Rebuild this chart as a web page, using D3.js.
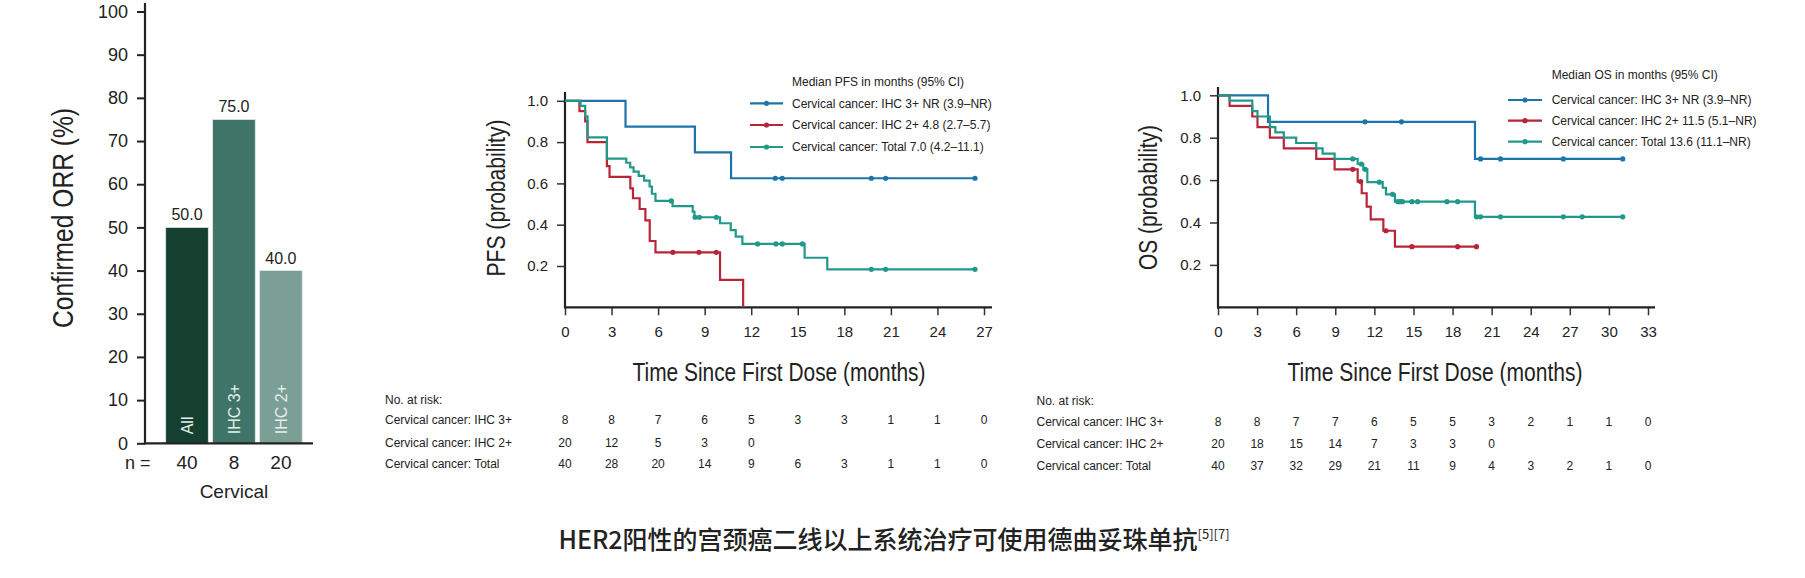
<!DOCTYPE html>
<html>
<head>
<meta charset="utf-8">
<script src="https://cdn.jsdelivr.net/npm/d3@7"></script>
<style>
  body { margin: 0; background: #fff; }
  svg text { font-family: "Liberation Sans", Arial, sans-serif; fill: #222; }
</style>
</head>
<body>
<div id="chart"></div>
<script>
// ---- bar chart data ----
const orrGroups = ["All", "IHC 3+", "IHC 2+"];
const orrValues = [50.0, 75.0, 40.0];
const orrN = [40, 8, 20];
const orrColors = ["#153f2f", "#3f7568", "#7b9e95"];
const orrTicks = [0, 10, 20, 30, 40, 50, 60, 70, 80, 90, 100];

// ---- PFS curves (time in months, survival prob) ----
const pfsIhc3Time = [0, 3.9, 8.37, 10.7];
const pfsIhc3Surv = [1, 0.875, 0.75, 0.625];
const pfsIhc3Cens = [13.55, 14.0, 19.74, 20.66, 26.42];
const pfsIhc2Time = [0, 0.93, 1.3, 1.45, 2.7, 2.87, 4.21, 4.38, 4.81, 5.18, 5.46, 5.83, 9.99, 11.48];
const pfsIhc2Surv = [1, 0.95, 0.9, 0.8, 0.684, 0.632, 0.576, 0.528, 0.476, 0.421, 0.321, 0.266, 0.133, 0];
const pfsIhc2Cens = [6.95, 8.63, 9.75];
const pfsTotTime = [0, 1.0, 1.3, 1.45, 2.7, 3.95, 4.2, 4.42, 4.75, 5.1, 5.45, 5.6, 5.83, 6.93, 8.23, 8.34, 9.99, 10.68, 11.0, 11.43, 15.44, 16.9];
const pfsTotSurv = [1, 0.975, 0.925, 0.823, 0.72, 0.70, 0.678, 0.657, 0.636, 0.613, 0.585, 0.55, 0.515, 0.49, 0.463, 0.436, 0.407, 0.374, 0.342, 0.307, 0.24, 0.184];
const pfsTotCens = [6.85, 8.38, 8.66, 9.75, 12.41, 13.59, 14.0, 15.3, 19.74, 20.66, 26.42];

// ---- OS curves ----
const osIhc3Time = [0, 3.84, 19.72];
const osIhc3Surv = [1, 0.875, 0.70];
const osIhc3Cens = [11.28, 14.08, 20.15, 21.68, 26.5, 31.06];
const osIhc2Time = [0, 0.89, 2.63, 3.03, 3.98, 5.05, 7.54, 8.95, 10.72, 11.03, 11.41, 11.72, 12.69, 13.58];
const osIhc2Surv = [1, 0.95, 0.9, 0.85, 0.8, 0.75, 0.7, 0.651, 0.593, 0.538, 0.475, 0.415, 0.361, 0.286];
const osIhc2Cens = [10.34, 10.95, 12.89, 14.88, 18.39, 19.84];
const osTotTime = [0, 0.89, 2.63, 3.03, 3.98, 4.4, 5.05, 6.0, 7.54, 8.03, 8.95, 10.72, 11.15, 11.46, 12.64, 12.89, 13.58, 19.72];
const osTotSurv = [1, 0.975, 0.925, 0.9, 0.85, 0.825, 0.8, 0.775, 0.75, 0.725, 0.70, 0.676, 0.651, 0.59, 0.564, 0.533, 0.498, 0.427];
const osTotCens = [10.34, 11.0, 11.3, 12.38, 13.4, 13.8, 13.98, 14.16, 14.88, 15.32, 17.57, 18.39, 19.84, 20.15, 21.68, 26.5, 27.95, 31.06];

// ---- legends / risk tables ----
const seriesColors = ["#1d74a9", "#b82539", "#20998a"];
const riskRowLabels = ["Cervical cancer: IHC 3+", "Cervical cancer: IHC 2+", "Cervical cancer: Total"];
const pfsLegend = ["Cervical cancer: IHC 3+ NR (3.9\u2013NR)", "Cervical cancer: IHC 2+ 4.8 (2.7\u20135.7)", "Cervical cancer: Total 7.0 (4.2\u201311.1)"];
const osLegend = ["Cervical cancer: IHC 3+ NR (3.9\u2013NR)", "Cervical cancer: IHC 2+ 11.5 (5.1\u2013NR)", "Cervical cancer: Total 13.6 (11.1\u2013NR)"];
const pfsRiskTimes = [0, 3, 6, 9, 12, 15, 18, 21, 24, 27];
const pfsRiskIhc3 = [8, 8, 7, 6, 5, 3, 3, 1, 1, 0];
const pfsRiskIhc2 = [20, 12, 5, 3, 0];
const pfsRiskTot = [40, 28, 20, 14, 9, 6, 3, 1, 1, 0];
const osRiskTimes = [0, 3, 6, 9, 12, 15, 18, 21, 24, 27, 30, 33];
const osRiskIhc3 = [8, 8, 7, 7, 6, 5, 5, 3, 2, 1, 1, 0];
const osRiskIhc2 = [20, 18, 15, 14, 7, 3, 3, 0];
const osRiskTot = [40, 37, 32, 29, 21, 11, 9, 4, 3, 2, 1, 0];

const svg = d3.select("#chart").append("svg")
    .attr("width", 1805)
    .attr("height", 578);

// ================= bar chart =================
const yBar = d3.scaleLinear().domain([0, 100]).range([443.3, 11.5]);
const xBar = d3.scaleBand().domain(orrGroups).range([165.7, 302.2]).paddingInner(0.092).paddingOuter(0);

const barAxis = svg.append("g")
    .attr("transform", "translate(145,0)")
    .call(d3.axisLeft(yBar).tickValues(orrTicks).tickSize(8).tickPadding(9));
barAxis.select(".domain").remove();
barAxis.selectAll("line").attr("stroke", "#222").attr("stroke-width", 2);
barAxis.selectAll("text").style("font-size", "18px").attr("fill", "#222");

svg.append("line")   // y axis line runs a bit above 100
    .attr("x1", 145).attr("x2", 145).attr("y1", 3).attr("y2", yBar(0) + 1)
    .attr("stroke", "#222").attr("stroke-width", 2.2);

svg.selectAll(".orr-bar")
    .data(orrValues)
    .enter()
    .append("rect")
    .attr("class", "orr-bar")
    .attr("x", (d, i) => xBar(orrGroups[i]))
    .attr("width", xBar.bandwidth())
    .attr("y", d => yBar(d))
    .attr("height", d => yBar(0) - yBar(d))
    .attr("fill", (d, i) => orrColors[i])
    .attr("stroke", "#dfe8e4")
    .attr("stroke-width", 0.8);

svg.append("line")
    .attr("x1", 144).attr("x2", 313).attr("y1", yBar(0)).attr("y2", yBar(0))
    .attr("stroke", "#222").attr("stroke-width", 2.2);

svg.selectAll(".orr-val")
    .data(orrValues)
    .enter()
    .append("text")
    .attr("x", (d, i) => xBar(orrGroups[i]) + xBar.bandwidth() / 2)
    .attr("y", d => yBar(d) - 7)
    .attr("text-anchor", "middle")
    .style("font-size", "16px")
    .attr("fill", "#333")
    .text(d => d.toFixed(1));

svg.selectAll(".orr-in")
    .data(orrGroups)
    .enter()
    .append("text")
    .attr("transform", d => `translate(${xBar(d) + xBar.bandwidth() / 2 + 6},${yBar(0) - 9}) rotate(-90)`)
    .style("font-size", "16px")
    .style("fill", "#e6eeeb")
    .text(d => d);

svg.append("text").attr("x", 125).attr("y", 469).style("font-size", "18px").text("n =");
svg.selectAll(".orr-n")
    .data(orrN)
    .enter()
    .append("text")
    .attr("x", (d, i) => xBar(orrGroups[i]) + xBar.bandwidth() / 2)
    .attr("y", 469)
    .attr("text-anchor", "middle")
    .style("font-size", "19px")
    .text(d => d);
svg.append("text").attr("x", xBar("IHC 3+") + xBar.bandwidth() / 2).attr("y", 498)
    .attr("text-anchor", "middle").style("font-size", "19px").text("Cervical");

svg.append("text")
    .attr("transform", "translate(62,218) rotate(-90)")
    .attr("text-anchor", "middle")
    .attr("dominant-baseline", "central")
    .attr("textLength", 220).attr("lengthAdjust", "spacingAndGlyphs")
    .style("font-size", "30px")
    .text("Confirmed ORR (%)");

// ================= KM plots =================
const survAt = (times, surv, t) => {
    let idx = 0;
    times.forEach((tt, i) => { if (tt <= t) idx = i; });
    return surv[idx];
};

function drawKM(cfg) {
    const x = d3.scaleLinear().domain([0, cfg.maxT]).range(cfg.xRange);
    const y = d3.scaleLinear().domain([0, 1]).range(cfg.yRange);
    const g = svg.append("g");

    // axes
    const xAx = g.append("g")
        .attr("transform", `translate(0,${cfg.yRange[0]})`)
        .call(d3.axisBottom(x).tickValues(cfg.riskTimes).tickSize(8).tickPadding(11));
    xAx.select(".domain").remove();
    xAx.selectAll("line").attr("stroke", "#333").attr("stroke-width", 1.5);
    xAx.selectAll("text").style("font-size", "15px").attr("fill", "#222");

    const yAx = g.append("g")
        .attr("transform", `translate(${cfg.xRange[0]},0)`)
        .call(d3.axisLeft(y).tickValues([0.2, 0.4, 0.6, 0.8, 1.0]).tickFormat(d3.format(".1f")).tickSize(8).tickPadding(9));
    yAx.select(".domain").remove();
    yAx.selectAll("line").attr("stroke", "#333").attr("stroke-width", 1.5);
    yAx.selectAll("text").style("font-size", "15px").attr("fill", "#222");

    g.append("line").attr("x1", cfg.xRange[0]).attr("x2", cfg.xRange[0])
        .attr("y1", cfg.axisTop).attr("y2", cfg.yRange[0] + 1)
        .attr("stroke", "#222").attr("stroke-width", 2.2);
    g.append("line").attr("x1", cfg.xRange[0] - 1).attr("x2", cfg.axisRight)
        .attr("y1", cfg.yRange[0]).attr("y2", cfg.yRange[0])
        .attr("stroke", "#222").attr("stroke-width", 2.2);

    // curves
    const line = d3.line().x(d => x(d[0])).y(d => y(d[1])).curve(d3.curveStepAfter);
    cfg.series.forEach((s, k) => {
        const pts = s.time.map((t, i) => [t, s.surv[i]]);
        pts.push([s.end, s.surv[s.surv.length - 1]]);
        g.append("path")
            .datum(pts)
            .attr("d", line)
            .attr("fill", "none")
            .attr("stroke", seriesColors[k])
            .attr("stroke-width", 2.2)
            .attr("stroke-linejoin", "miter");
        g.selectAll(null)
            .data(s.cens)
            .enter()
            .append("circle")
            .attr("cx", d => x(d))
            .attr("cy", d => y(survAt(s.time, s.surv, d)))
            .attr("r", 2.6)
            .attr("fill", seriesColors[k]);
    });

    // legend
    const lg = cfg.legend;
    g.append("text").attr("x", lg.textX).attr("y", lg.titleY).attr("dy", "0.35em")
        .style("font-size", "12px").attr("fill", "#333").text(lg.title);
    lg.labels.forEach((lab, k) => {
        const yy = lg.rowY[k];
        g.append("line").attr("x1", lg.lineX[0]).attr("x2", lg.lineX[1]).attr("y1", yy).attr("y2", yy)
            .attr("stroke", seriesColors[k]).attr("stroke-width", 2.2);
        g.append("circle").attr("cx", (lg.lineX[0] + lg.lineX[1]) / 2).attr("cy", yy).attr("r", 2.6)
            .attr("fill", seriesColors[k]);
        g.append("text").attr("x", lg.textX).attr("y", yy).attr("dy", "0.35em")
            .style("font-size", "12px").attr("fill", "#333").text(lab);
    });

    // axis titles
    g.append("text")
        .attr("transform", `translate(${cfg.yLabelPos[0]},${cfg.yLabelPos[1]}) rotate(-90)`)
        .attr("text-anchor", "middle").attr("dominant-baseline", "central")
        .attr("textLength", cfg.yLabelLen).attr("lengthAdjust", "spacingAndGlyphs")
        .style("font-size", "25px")
        .text(cfg.yLabel);
    g.append("text")
        .attr("x", cfg.xLabelPos[0]).attr("y", cfg.xLabelPos[1])
        .attr("text-anchor", "middle").attr("dominant-baseline", "central")
        .attr("textLength", cfg.xLabelLen).attr("lengthAdjust", "spacingAndGlyphs")
        .style("font-size", "25px")
        .text("Time Since First Dose (months)");

    // risk table
    const rt = cfg.risk;
    g.append("text").attr("x", rt.labelX).attr("y", rt.headY).attr("dy", "0.35em")
        .style("font-size", "12px").attr("fill", "#333").text("No. at risk:");
    rt.rows.forEach((row, k) => {
        const yy = rt.rowY[k];
        g.append("text").attr("x", rt.labelX).attr("y", yy).attr("dy", "0.35em")
            .style("font-size", "12px").attr("fill", "#333").text(riskRowLabels[k]);
        g.selectAll(null)
            .data(row)
            .enter()
            .append("text")
            .attr("x", (d, i) => x(cfg.riskTimes[i]))
            .attr("y", yy).attr("dy", "0.35em")
            .attr("text-anchor", "middle")
            .style("font-size", "12px").attr("fill", "#333")
            .text(d => d);
    });
}

drawKM({
    maxT: 27, xRange: [565, 984], yRange: [307.3, 100.8], axisTop: 92, axisRight: 992,
    riskTimes: pfsRiskTimes,
    series: [
        { time: pfsIhc3Time, surv: pfsIhc3Surv, cens: pfsIhc3Cens, end: 26.42 },
        { time: pfsIhc2Time, surv: pfsIhc2Surv, cens: pfsIhc2Cens, end: 11.48 },
        { time: pfsTotTime, surv: pfsTotSurv, cens: pfsTotCens, end: 26.42 }
    ],
    legend: { title: "Median PFS in months (95% CI)", labels: pfsLegend, textX: 792, titleY: 81.7,
              rowY: [103.3, 125, 147], lineX: [750, 783] },
    yLabel: "PFS (probability)", yLabelPos: [495.5, 198], yLabelLen: 157,
    xLabelPos: [779, 372], xLabelLen: 293,
    risk: { labelX: 385, headY: 399.3, rowY: [420, 442.3, 463.5], rows: [pfsRiskIhc3, pfsRiskIhc2, pfsRiskTot] }
});

drawKM({
    maxT: 33, xRange: [1218, 1648], yRange: [307.3, 95.3], axisTop: 87, axisRight: 1655,
    riskTimes: osRiskTimes,
    series: [
        { time: osIhc3Time, surv: osIhc3Surv, cens: osIhc3Cens, end: 31.06 },
        { time: osIhc2Time, surv: osIhc2Surv, cens: osIhc2Cens, end: 19.84 },
        { time: osTotTime, surv: osTotSurv, cens: osTotCens, end: 31.06 }
    ],
    legend: { title: "Median OS in months (95% CI)", labels: osLegend, textX: 1551.7, titleY: 75,
              rowY: [100, 120.7, 141.7], lineX: [1508, 1542] },
    yLabel: "OS (probability)", yLabelPos: [1147.5, 197.5], yLabelLen: 145,
    xLabelPos: [1435, 372], xLabelLen: 295,
    risk: { labelX: 1036.5, headY: 401, rowY: [422, 444, 466], rows: [osRiskIhc3, osRiskIhc2, osRiskTot] }
});

// ================= caption =================
const caption = svg.append("text")
    .attr("x", 894).attr("y", 549)
    .attr("text-anchor", "middle")
    .style("font-family", "'Noto Sans CJK SC', 'Noto Sans', sans-serif")
    .style("font-size", "25px")
    .style("font-weight", "500")
    .attr("fill", "#111");
caption.append("tspan").text("HER2阳性的宫颈癌二线以上系统治疗可使用德曲妥珠单抗");
caption.append("tspan").attr("dy", -10).style("font-size", "13px").style("font-weight", "400").text("[5][7]");
</script>
</body>
</html>
